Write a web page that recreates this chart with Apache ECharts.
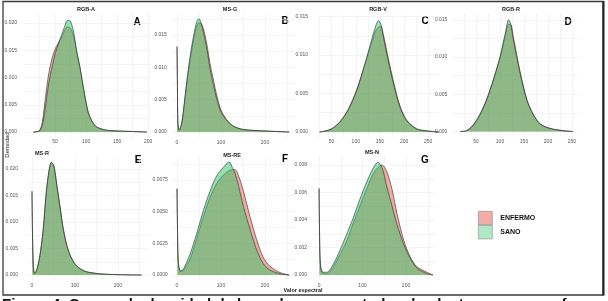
<!DOCTYPE html>
<html><head><meta charset="utf-8">
<script src="https://cdn.jsdelivr.net/npm/echarts@6/dist/echarts.min.js"></script>
<style>html,body{margin:0;padding:0;background:#fff;overflow:hidden}#c{width:608px;height:301px}</style>
</head><body><div id="c"></div>
<script>
// ---------- DATA ----------
const seriesNames = ['ENFERMO', 'SANO'];
const panelTitles = ['RGB-A', 'MS-G', 'RGB-V', 'RGB-R', 'MS-R', 'MS-RE', 'MS-N'];
const panelLetters = ['A', 'B', 'C', 'D', 'E', 'F', 'G'];

// RGB-A
const xRgbA = [15, 25, 30, 35, 40, 45, 50, 55, 60, 65, 70, 75, 80, 85, 90, 95, 100, 105, 115, 130, 150, 175, 198];
const enfermoRgbA = [0, 0.0003, 0.0022, 0.0068, 0.0108, 0.0134, 0.0152, 0.0163, 0.0173, 0.0185, 0.0193, 0.0190, 0.0176, 0.0146, 0.0119, 0.0086, 0.0054, 0.0031, 0.0011, 0.0004, 0.0002, 0.0001, 0];
const sanoRgbA = [0, 0.0002, 0.0014, 0.0050, 0.0090, 0.0118, 0.0143, 0.0160, 0.0176, 0.0192, 0.0205, 0.0203, 0.0183, 0.0148, 0.0120, 0.0086, 0.0054, 0.0031, 0.0011, 0.0004, 0.0002, 0.0001, 0];
// MS-G
const xMsG = [0, 1, 2, 5, 10, 15, 22, 30, 38, 45, 50, 55, 60, 68, 75, 83, 90, 100, 113, 128, 150, 188, 255];
const enfermoMsG = [0.0132, 0.0070, 0.0015, 0.0003, 0.0011, 0.0033, 0.0073, 0.0112, 0.0144, 0.0164, 0.0169, 0.0168, 0.0160, 0.0135, 0.0106, 0.0080, 0.0058, 0.0034, 0.0019, 0.0009, 0.0004, 0.0002, 0];
const sanoMsG = [0.0132, 0.0070, 0.0015, 0.0003, 0.0012, 0.0036, 0.0078, 0.0118, 0.0150, 0.0171, 0.0175, 0.0168, 0.0154, 0.0128, 0.0098, 0.0072, 0.0052, 0.0031, 0.0018, 0.0009, 0.0004, 0.0002, 0];
// RGB-V
const xRgbV = [25, 35, 50, 67, 84, 102, 115, 129, 140, 147, 152, 157, 167, 178, 191, 205, 226, 253, 272];
const enfermoRgbV = [0, 0.0001, 0.0004, 0.0013, 0.0029, 0.0055, 0.0080, 0.0108, 0.0130, 0.0136, 0.0137, 0.0127, 0.0097, 0.0066, 0.0035, 0.0016, 0.0004, 0.0001, 0];
const sanoRgbV = [0, 0.0001, 0.0004, 0.0013, 0.0028, 0.0054, 0.0080, 0.0111, 0.0135, 0.0145, 0.0140, 0.0124, 0.0093, 0.0063, 0.0033, 0.0015, 0.0004, 0.0001, 0];
// RGB-R
const xRgbR = [17, 30, 44, 58, 72, 86, 100, 111, 118, 122, 128, 142, 156, 170, 184, 205, 233, 252];
const enfermoRgbR = [0, 0.0001, 0.0009, 0.0023, 0.0043, 0.0069, 0.0099, 0.0128, 0.0144, 0.0144, 0.0126, 0.0080, 0.0043, 0.0022, 0.0010, 0.0004, 0.0001, 0];
const sanoRgbR = [0, 0.0001, 0.0008, 0.0022, 0.0042, 0.0069, 0.0100, 0.0132, 0.0150, 0.0145, 0.0123, 0.0078, 0.0042, 0.0022, 0.0010, 0.0004, 0.0001, 0];
// MS-R
const xMsR = [0, 1, 3, 6, 11, 18, 26, 33, 40, 45, 51, 58, 66, 73, 84, 99, 120, 150, 186, 255];
const enfermoMsR = [0.0158, 0.0090, 0.0020, 0.0003, 0.0009, 0.0034, 0.0084, 0.0153, 0.0198, 0.0212, 0.0206, 0.0169, 0.0125, 0.0087, 0.0048, 0.0022, 0.0008, 0.0003, 0.0001, 0];
const sanoMsR = [0.0158, 0.0090, 0.0020, 0.0003, 0.0010, 0.0035, 0.0085, 0.0155, 0.0199, 0.0213, 0.0205, 0.0167, 0.0123, 0.0085, 0.0047, 0.0022, 0.0008, 0.0003, 0.0001, 0];
// MS-RE
const xMsRE = [0, 1, 3, 8, 15, 30, 45, 60, 75, 90, 106, 118, 128, 132, 140, 151, 166, 181, 196, 211, 234, 255];
const enfermoMsRE = [0.0068, 0.0040, 0.0010, 0.0003, 0.0004, 0.0013, 0.0029, 0.0046, 0.0061, 0.0072, 0.0079, 0.0082, 0.0083, 0.0083, 0.0078, 0.0066, 0.0046, 0.0028, 0.0014, 0.0007, 0.0002, 0];
const sanoMsRE = [0.0068, 0.0040, 0.0010, 0.0003, 0.0005, 0.0017, 0.0033, 0.0051, 0.0066, 0.0078, 0.0085, 0.0089, 0.0083, 0.0080, 0.0070, 0.0054, 0.0036, 0.0020, 0.0009, 0.0004, 0.0001, 0];
// MS-N
const xMsN = [0, 1, 3, 8, 18, 33, 48, 64, 79, 95, 110, 125, 135, 145, 156, 168, 179, 195, 210, 225, 248, 262];
const enfermoMsN = [0.0063, 0.0035, 0.0008, 0.0002, 0.0001, 0.0006, 0.0015, 0.0025, 0.0038, 0.0051, 0.0063, 0.0074, 0.0078, 0.0080, 0.0075, 0.0062, 0.0045, 0.0025, 0.0013, 0.0006, 0.0002, 0];
const sanoMsN = [0.0063, 0.0035, 0.0008, 0.0002, 0.0002, 0.0008, 0.0018, 0.0030, 0.0042, 0.0056, 0.0068, 0.0078, 0.0082, 0.0078, 0.0064, 0.0050, 0.0037, 0.0022, 0.0012, 0.0005, 0.0001, 0];

// tick labels (major) and minor grid positions
const xTicksRgb = [50, 100, 150, 200, 250];
const xMinorRgb = [25, 75, 125, 175, 225];
const xTicksMs = [0, 100, 200];
const xMinorMs = [50, 150, 250];
const yTicks020 = [0, 0.005, 0.010, 0.015, 0.020];
const yMinor020 = [0.0025, 0.0075, 0.0125, 0.0175];
const yTicksRE = [0, 0.0025, 0.0050, 0.0075];
const yMinorRE = [0.00125, 0.00375, 0.00625, 0.00875];
const yTicksN = [0, 0.002, 0.004, 0.006, 0.008];
const yMinorN = [0.001, 0.003, 0.005, 0.007];

const axisTitleY = 'Densidad';
const axisTitleX = 'Valor espectral';
const captionText = 'Figura 4. Curvas de densidad de los valores espectrales de plantas sanas y enfermas por banda';

const panelX = [xRgbA, xMsG, xRgbV, xRgbR, xMsR, xMsRE, xMsN];
const panelEnfermo = [enfermoRgbA, enfermoMsG, enfermoRgbV, enfermoRgbR, enfermoMsR, enfermoMsRE, enfermoMsN];
const panelSano = [sanoRgbA, sanoMsG, sanoRgbV, sanoRgbR, sanoMsR, sanoMsRE, sanoMsN];
const panelXTicks = [xTicksRgb, xTicksMs, xTicksRgb, xTicksRgb, xTicksMs, xTicksMs, xTicksMs];
const panelXMinor = [xMinorRgb, xMinorMs, xMinorRgb, xMinorRgb, xMinorMs, xMinorMs, xMinorMs];
const panelYTicks = [yTicks020, yTicks020, yTicks020, yTicks020, yTicks020, yTicksRE, yTicksN];
const panelYMinor = [yMinor020, yMinor020, yMinor020, yMinor020, yMinor020, yMinorRE, yMinorN];

// ---------- LAYOUT ----------
const layout = [
  {left: 24,    top: 14.3,  width: 126,   height: 123.2, xMin: 0,      xMax: 203,    yMin: -0.001,    yMax: 0.0216,  yMargin: 7,   dec: 3, tx: 86,  ty: 9,   lx: 137, ly: 22},
  {left: 171.4, top: 12.4,  width: 123.4, height: 125.3, xMin: -12.75, xMax: 267.75, yMin: -0.00088,  yMax: 0.0185,  yMargin: 4.5, dec: 3, tx: 230, ty: 9,   lx: 285, ly: 21},
  {left: 318.1, top: 15,    width: 121.7, height: 122.6, xMin: 22,     xMax: 274,    yMin: -0.00073,  yMax: 0.0152,  yMargin: 10,  dec: 3, tx: 378, ty: 9,   lx: 425, ly: 21},
  {left: 454.4, top: 13.8,  width: 124.3, height: 123.3, xMin: 5,      xMax: 264,    yMin: -0.00075,  yMax: 0.0158,  yMargin: 7,   dec: 3, tx: 511, ty: 9,   lx: 568, ly: 22},
  {left: 26.5,  top: 156.3, width: 120.6, height: 124.4, xMin: -12.75, xMax: 267.75, yMin: -0.00107,  yMax: 0.0224,  yMargin: 8.5, dec: 3, tx: 42,  ty: 153, lx: 138, ly: 160},
  {left: 171.4, top: 156.3, width: 123.4, height: 124.4, xMin: -12.75, xMax: 267.75, yMin: -0.000445, yMax: 0.00935, yMargin: 3.5, dec: 4, tx: 232, ty: 155, lx: 285, ly: 159},
  {left: 313.5, top: 155.4, width: 122,   height: 125.3, xMin: -12.75, xMax: 267.75, yMin: -0.000415, yMax: 0.0087,  yMargin: 6.5, dec: 3, tx: 372, ty: 152, lx: 425, ly: 160}
];

const FONT = '"Liberation Sans", Arial, sans-serif';
const fillColors = ['rgba(229,85,71,0.5)', 'rgba(41,197,105,0.5)'];
const gridColor = '#ECECEC';

const grids = [], xAxes = [], yAxes = [], series = [], graphics = [];
layout.forEach((L, i) => {
  grids.push({left: L.left, top: L.top, width: L.width, height: L.height, containLabel: false});
  const xT = panelXTicks[i];
  const xAll = xT.concat(panelXMinor[i]).sort((a, b) => a - b);
  const yT = panelYTicks[i];
  const yAll = yT.concat(panelYMinor[i]).sort((a, b) => a - b);
  xAxes.push({
    type: 'value', gridIndex: i, min: L.xMin, max: L.xMax,
    axisLine: {show: false},
    axisTick: {show: false, customValues: xAll},
    axisLabel: {customValues: xT, fontSize: 5, color: '#555', margin: 2, fontFamily: FONT},
    splitLine: {show: true, lineStyle: {color: gridColor, width: 0.6}}
  });
  yAxes.push({
    type: 'value', gridIndex: i, min: L.yMin, max: L.yMax,
    axisLine: {show: false},
    axisTick: {show: false, customValues: yAll},
    axisLabel: {customValues: yT, fontSize: 5, color: '#555', margin: L.yMargin, fontFamily: FONT,
      formatter: v => Number(v).toFixed(L.dec)},
    splitLine: {show: true, lineStyle: {color: gridColor, width: 0.6}}
  });
  const xs = panelX[i];
  [panelEnfermo[i], panelSano[i]].forEach((vals, k) => {
    series.push({
      name: seriesNames[k], type: 'line', xAxisIndex: i, yAxisIndex: i,
      data: xs.map((x, j) => [x, vals[j]]),
      showSymbol: false, smooth: 0.3, silent: true,
      lineStyle: {color: '#2a2a2a', width: 0.6},
      itemStyle: {color: fillColors[k]},
      areaStyle: {color: fillColors[k], opacity: 1},
      z: 2 + k
    });
  });
  graphics.push({type: 'text', x: L.tx, y: L.ty, style: {text: panelTitles[i], font: 'bold 5.5px ' + FONT, fill: '#222', textAlign: 'center', textVerticalAlign: 'middle'}});
  graphics.push({type: 'text', x: L.lx, y: L.ly, style: {text: panelLetters[i], font: 'bold 10px ' + FONT, fill: '#000', textAlign: 'center', textVerticalAlign: 'middle'}});
});

graphics.push({type: 'text', x: 7, y: 145, rotation: Math.PI / 2, style: {text: axisTitleY, font: '6px ' + FONT, fill: '#222', textAlign: 'center', textVerticalAlign: 'middle'}});
graphics.push({type: 'text', x: 303, y: 290, style: {text: axisTitleX, font: 'bold 5.5px ' + FONT, fill: '#222', textAlign: 'center', textVerticalAlign: 'middle'}});
graphics.push({type: 'text', x: 2, y: 297, style: {text: captionText, font: 'bold 15px ' + FONT, fill: '#111', textAlign: 'left', textVerticalAlign: 'top'}});
graphics.push({type: 'rect', shape: {x: 3, y: 1.5, width: 600, height: 293.5}, style: {fill: 'none', stroke: '#3a3a3a', lineWidth: 1.3}, z: 100});
graphics.push({type: 'line', shape: {x1: 603.5, y1: 1, x2: 603.5, y2: 295.5}, style: {stroke: '#222', lineWidth: 2}, z: 100});

const chart = echarts.init(document.getElementById('c'), null, {renderer: 'canvas'});
chart.setOption({
  animation: false,
  backgroundColor: '#fff',
  grid: grids, xAxis: xAxes, yAxis: yAxes, series: series,
  legend: {
    left: 473, top: 206, orient: 'vertical', itemWidth: 14, itemHeight: 13.5, itemGap: 0,
    selectedMode: false, icon: 'rect',
    textStyle: {fontSize: 7, fontWeight: 'bold', color: '#111', fontFamily: FONT, padding: [0, 0, 0, 3]},
    data: [
      {name: 'ENFERMO', itemStyle: {color: '#F2ADA6', borderColor: '#888', borderWidth: 0.6}},
      {name: 'SANO', itemStyle: {color: '#AEE8C4', borderColor: '#888', borderWidth: 0.6}}
    ]
  },
  graphic: graphics
});
</script></body></html>
